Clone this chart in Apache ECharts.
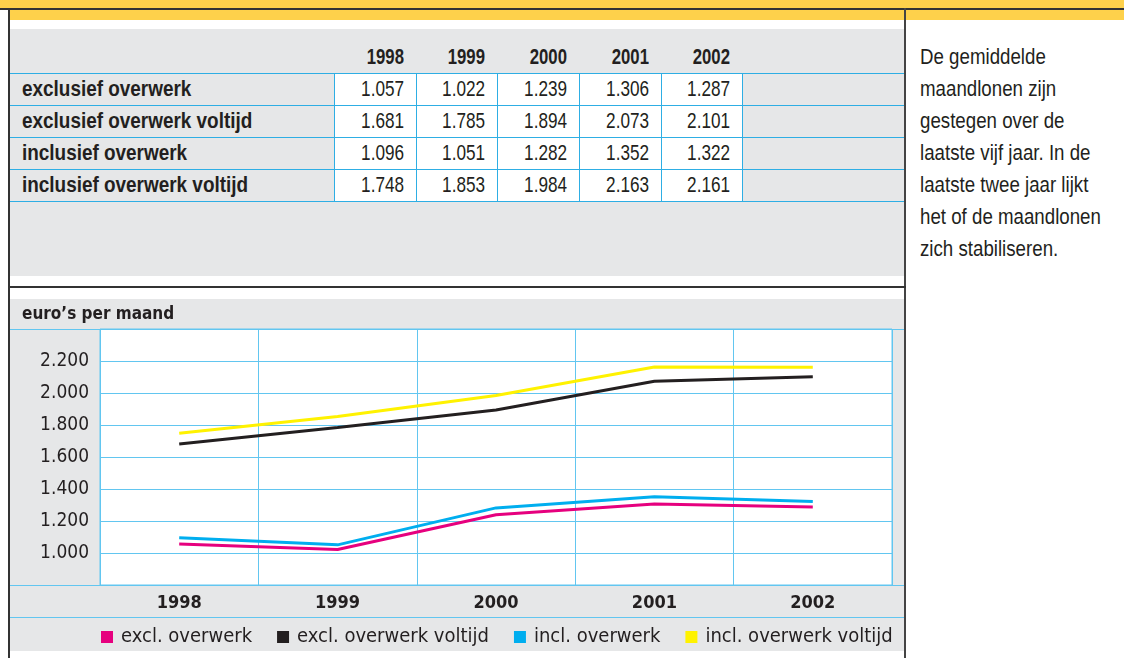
<!DOCTYPE html>
<html>
<head>
<meta charset="utf-8">
<script src="https://cdn.jsdelivr.net/npm/echarts@6/dist/echarts.min.js"></script>
<style>
  body { margin: 0; background: #fff; }
  #page { position: relative; width: 1124px; height: 658px; overflow: hidden;
    font-family: "Liberation Sans", Arial, sans-serif; color: #231f20; }
  .abs { position: absolute; }
  .sx { display: inline-block; white-space: nowrap; }
  .lbl { font-weight: bold; font-size: 22px; line-height: 32px; }
  .lbl .sx { transform: scaleX(0.86); transform-origin: 0 50%; }
  .num { font-size: 22px; line-height: 32px; text-align: right; }
  .num .sx { transform: scaleX(0.78); transform-origin: 100% 50%; }
  .yr { font-weight: bold; font-size: 22px; line-height: 32px; text-align: right; }
  .yr .sx { transform: scaleX(0.76); transform-origin: 100% 50%; }
  .note { left: 920px; font-size: 22px; line-height: 32px; }
  .note .sx { transform: scaleX(0.85); transform-origin: 0 50%; }
</style>
</head>
<body>
<div id="page">
  <!-- gele balk bovenaan + kader -->
  <div class="abs" style="left:0;top:0;width:1124px;height:8px;background:#fed14b"></div>
  <div class="abs" style="left:0;top:8px;width:1124px;height:2px;background:#333"></div>
  <div class="abs" style="left:10px;top:10px;width:1114px;height:10px;background:#fed14b"></div>
  <div class="abs" style="left:8px;top:8px;width:2px;height:650px;background:#333"></div>
  <div class="abs" style="left:904px;top:8px;width:2px;height:650px;background:#444"></div>
  <div class="abs" style="left:8px;top:286px;width:898px;height:2px;background:#333"></div>

  <!-- tabel -->
  <div id="table" class="abs" style="left:10px;top:29px;width:894px;height:247px;background:#e6e7e8"></div>

  <div id="note"></div>

  <!-- grafiek -->
  <div id="chart" class="abs" style="left:10px;top:299px;width:894px;height:352px"></div>
</div>

<script>
const years = ['1998', '1999', '2000', '2001', '2002']
const rowLabels = ['exclusief overwerk', 'exclusief overwerk voltijd', 'inclusief overwerk', 'inclusief overwerk voltijd']
const seriesNames = ['excl. overwerk', 'excl. overwerk voltijd', 'incl. overwerk', 'incl. overwerk voltijd']
const exclOverwerk = [1057, 1022, 1239, 1306, 1287]
const exclVoltijd = [1681, 1785, 1894, 2073, 2101]
const inclOverwerk = [1096, 1051, 1282, 1352, 1322]
const inclVoltijd = [1748, 1853, 1984, 2163, 2161]
const yTicks = [800, 1000, 1200, 1400, 1600, 1800, 2000, 2200, 2400]
const colors = ['#e6007e', '#231f20', '#00aeef', '#fff200']
const noteLines = ['De gemiddelde', 'maandlonen zijn', 'gestegen over de', 'laatste vijf jaar. In de',
  'laatste twee jaar lijkt', 'het of de maandlonen', 'zich stabiliseren.']

const FONT = '"DejaVu Sans Condensed", "Liberation Sans", sans-serif'
const LINE_BLUE = '#2eaee4'
const GRID_BLUE = '#62c6f0'

// getal met punt als duizendtal-scheiding
function fmt(v) {
  return String(v).replace(/\B(?=(\d{3})+(?!\d))/g, '.')
}

// tabel opbouwen (coordinaten relatief aan #table)
function buildTable() {
  const t = document.getElementById('table')
  const rows = [exclOverwerk, exclVoltijd, inclOverwerk, inclVoltijd]
  const colEdges = [324, 406, 487, 569, 651, 732]
  const rowTop = 44
  const rowH = 32
  let html = ''
  // witte cellen
  html += `<div class="abs" style="left:${colEdges[0]}px;top:${rowTop}px;width:${colEdges[5] - colEdges[0]}px;height:${rowH * 4}px;background:#fff"></div>`
  // jaartallen
  years.forEach((y, i) => {
    html += `<div class="abs yr" style="left:${colEdges[i]}px;top:${rowTop - rowH}px;width:${colEdges[i + 1] - colEdges[i] - 12}px"><span class="sx">${y}</span></div>`
  })
  // rijen
  rows.forEach((r, ri) => {
    const top = rowTop + ri * rowH
    html += `<div class="abs lbl" style="left:12px;top:${top}px"><span class="sx">${rowLabels[ri]}</span></div>`
    r.forEach((v, i) => {
      html += `<div class="abs num" style="left:${colEdges[i]}px;top:${top}px;width:${colEdges[i + 1] - colEdges[i] - 12}px"><span class="sx">${fmt(v)}</span></div>`
    })
  })
  // horizontale lijnen
  for (let i = 0; i <= 4; i++) {
    html += `<div class="abs" style="left:0;top:${rowTop + i * rowH}px;width:894px;height:1px;background:${LINE_BLUE}"></div>`
  }
  // verticale lijnen
  colEdges.forEach(x => {
    html += `<div class="abs" style="left:${x}px;top:${rowTop}px;width:1px;height:${rowH * 4}px;background:${LINE_BLUE}"></div>`
  })
  t.innerHTML = html

  // tekst rechts
  document.getElementById('note').innerHTML = noteLines
    .map((l, i) => `<div class="abs note" style="top:${41 + i * 32}px"><span class="sx">${l}</span></div>`)
    .join('')
}
buildTable()

const chart = echarts.init(document.getElementById('chart'))
const data = [exclOverwerk, exclVoltijd, inclOverwerk, inclVoltijd]
chart.setOption({
  backgroundColor: '#e6e7e8',
  animation: false,
  textStyle: { fontFamily: FONT },
  title: {
    text: 'euro’s per maand',
    left: 12,
    top: 7,
    padding: 0,
    textStyle: { fontFamily: FONT, fontSize: 17, fontWeight: 'bold', color: '#231f20' }
  },
  legend: {
    left: 91,
    top: 328,
    padding: 0,
    icon: 'rect',
    itemWidth: 12,
    itemHeight: 12,
    itemGap: 25,
    textStyle: { fontFamily: FONT, fontSize: 20, color: '#231f20', padding: [0, 0, 0, 3] },
    data: seriesNames
  },
  grid: {
    left: 90,
    right: 12,
    top: 30,
    bottom: 66,
    show: true,
    backgroundColor: '#fff',
    borderColor: GRID_BLUE,
    borderWidth: 1
  },
  graphic: [
    { type: 'line', shape: { x1: 0, y1: 30.5, x2: 894, y2: 30.5 }, style: { stroke: GRID_BLUE, lineWidth: 1 } },
    { type: 'line', shape: { x1: 0, y1: 286.5, x2: 894, y2: 286.5 }, style: { stroke: GRID_BLUE, lineWidth: 1 } },
    { type: 'line', shape: { x1: 0, y1: 318.5, x2: 894, y2: 318.5 }, style: { stroke: GRID_BLUE, lineWidth: 1 } }
  ],
  xAxis: {
    type: 'category',
    data: years,
    boundaryGap: true,
    axisLine: { show: false },
    axisTick: { show: false },
    splitLine: { show: true, interval: 0, lineStyle: { color: GRID_BLUE, width: 1 } },
    axisLabel: { fontFamily: FONT, fontSize: 18, fontWeight: 'bold', color: '#231f20', margin: 9 }
  },
  yAxis: {
    type: 'value',
    min: yTicks[0],
    max: yTicks[yTicks.length - 1],
    interval: 200,
    axisLine: { show: false },
    axisTick: { show: false },
    splitLine: { lineStyle: { color: GRID_BLUE, width: 1 } },
    axisLabel: {
      fontFamily: FONT,
      fontSize: 19,
      color: '#231f20',
      margin: 11,
      formatter: v => (v === yTicks[0] || v === yTicks[yTicks.length - 1]) ? '' : fmt(v)
    }
  },
  series: data.map((d, i) => ({
    name: seriesNames[i],
    type: 'line',
    data: d,
    symbol: 'none',
    color: colors[i],
    lineStyle: { width: 3, color: colors[i] }
  }))
})
</script>
</body>
</html>
